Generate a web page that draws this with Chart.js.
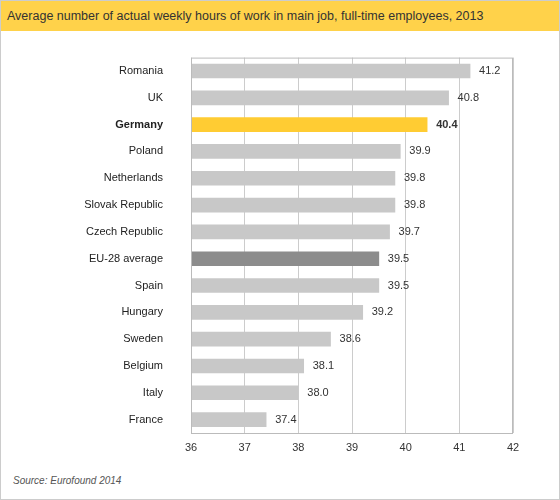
<!DOCTYPE html>
<html><head><meta charset="utf-8">
<script src="https://cdn.jsdelivr.net/npm/chart.js@4"></script>
<style>
body{margin:0;background:#fff;font-family:"Liberation Sans",Arial,sans-serif}
#wrap{position:relative;width:558px;height:498px;border:1px solid #ccc}
#title{position:absolute;left:0;top:0;width:558px;height:30px;background:#FFD24A;font-size:12.5px;color:#333;line-height:30px;padding-left:6px;box-sizing:border-box}
#cv{position:absolute;left:0;top:30px}
#src{position:absolute;left:12px;top:474px;font-size:10px;font-style:italic;color:#555}
</style></head><body>
<div id="wrap">
<div id="title">Average number of actual weekly hours of work in main job, full-time employees, 2013</div>
<canvas id="cv" width="558" height="440"></canvas>
<div id="src">Source: Eurofound 2014</div>
</div>
<script>
const categories=["Romania","UK","Germany","Poland","Netherlands","Slovak Republic","Czech Republic","EU-28 average","Spain","Hungary","Sweden","Belgium","Italy","France"];
const hours=[41.2,40.8,40.4,39.9,39.8,39.8,39.7,39.5,39.5,39.2,38.6,38.1,38.0,37.4];
const xTicks=[36,37,38,39,40,41,42];
const colors=categories.map(c=>c==="Germany"?"#FFCC33":c==="EU-28 average"?"#8C8C8C":"#C8C8C8");
const labelPlugin={id:"vals",afterDatasetsDraw(chart){
 const ctx=chart.ctx;const meta=chart.getDatasetMeta(0);
 meta.data.forEach((b,i)=>{
  ctx.save();
  ctx.font=(categories[i]==="Germany"?"bold ":"")+"11px 'Liberation Sans', Arial";
  ctx.fillStyle="#333";ctx.textBaseline="middle";
  ctx.fillText(hours[i].toFixed(1),b.x+9,b.y);
  ctx.restore();
 });
 const a=chart.chartArea;ctx.save();ctx.strokeStyle="#bbb";ctx.lineWidth=1;
 ctx.strokeRect(a.left+0.5,a.top+0.5,a.right-a.left-1,a.bottom-a.top);ctx.restore();
}};
new Chart(document.getElementById("cv"),{
 type:"bar",
 data:{labels:categories,datasets:[{data:hours,backgroundColor:colors,barThickness:14,borderWidth:0}]},
 options:{indexAxis:"y",responsive:false,animation:false,
  layout:{padding:{top:22,right:46,left:0,bottom:0}},
  plugins:{legend:{display:false},tooltip:{enabled:false}},
  scales:{
   x:{min:36,max:42,afterBuildTicks(s){s.ticks=xTicks.map(v=>({value:v}));},
    afterFit(s){s.height=38;},
    grid:{color:"#ccc",drawTicks:false},border:{display:false},
    ticks:{padding:8,color:"#333",font:{size:11,family:"'Liberation Sans', Arial"}}},
   y:{afterFit(s){s.width=190;},grid:{display:false},border:{display:false},
    ticks:{padding:20,color:"#222",font:(c)=>({size:11,family:"'Liberation Sans', Arial",weight:categories[c.index]==="Germany"?"bold":"normal"})}}
  }},
 plugins:[labelPlugin]
});
</script></body></html>
